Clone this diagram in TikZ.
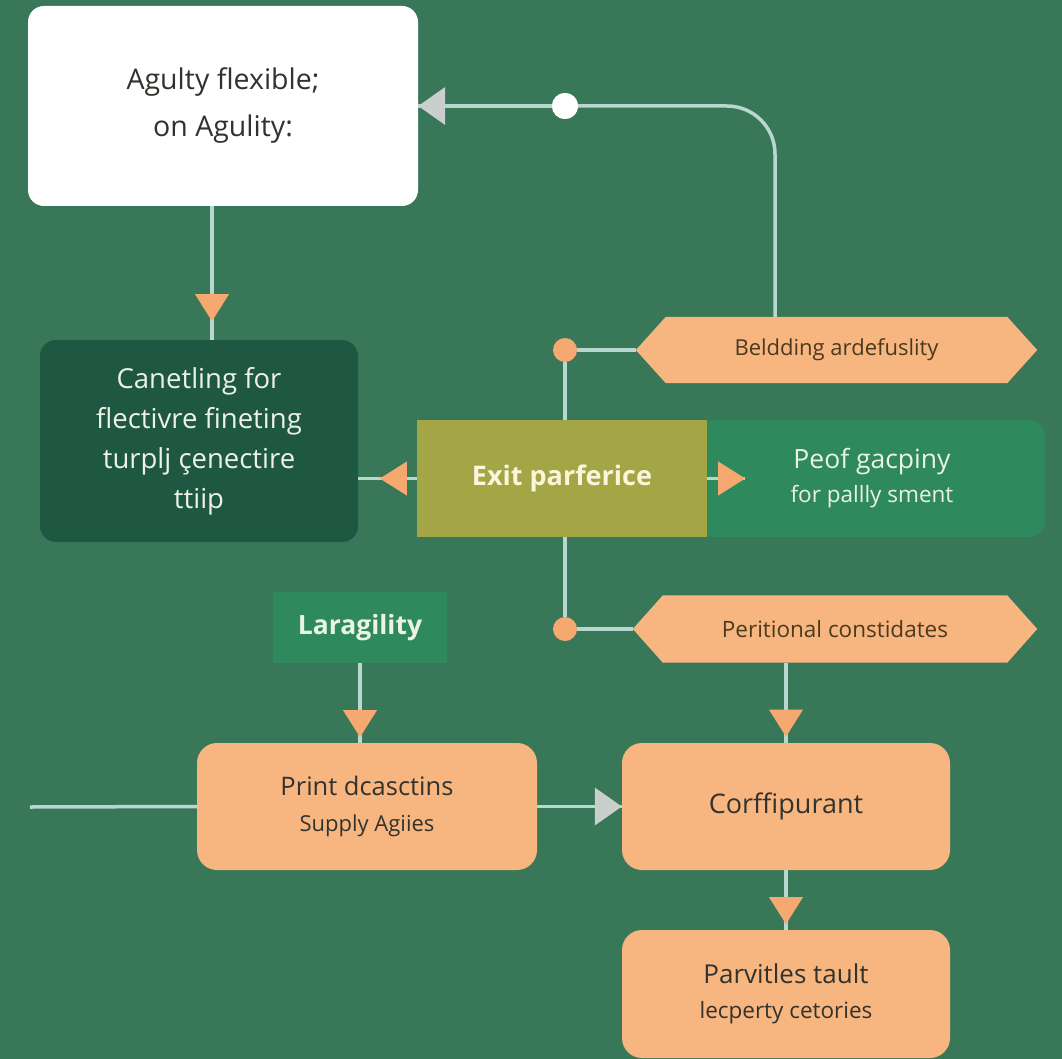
\documentclass[tikz,border=0pt]{standalone}
\usepackage{fontspec}
\setmainfont{Open Sans}
\usetikzlibrary{decorations.markings}
\pgfdeclarelayer{bgl}
\pgfdeclarelayer{back}
\pgfsetlayers{bgl,back,main}
\definecolor{bgc}{RGB}{57,119,89}
\definecolor{darkg}{RGB}{30,88,66}
\definecolor{oliveb}{RGB}{164,165,68}
\definecolor{greenb}{RGB}{46,138,92}
\definecolor{peach}{RGB}{247,182,128}
\definecolor{linec}{RGB}{184,216,207}
\definecolor{arrO}{RGB}{245,168,112}
\definecolor{arrG}{RGB}{201,207,204}
\definecolor{txd}{RGB}{50,50,46}
\definecolor{txb}{RGB}{74,58,31}
\definecolor{txl}{RGB}{236,242,228}
\definecolor{cream}{RGB}{250,246,220}
\tikzset{
  box/.style={rounded corners=16, inner sep=0, align=center},
  sq/.style={inner sep=0, align=center},
  conn/.style={draw=linec, line width=3.5},
  otri/.style={postaction={decorate,decoration={markings,mark=at position #1 with {\fill[arrO] (-27,-17)--(0,0)--(-27,17)--cycle;}}}},
  gtri/.style={postaction={decorate,decoration={markings,mark=at position #1 with {\fill[arrG] (-27,-19)--(0,0)--(-27,19)--cycle;}}}},
  dotO/.style={circle, fill=arrO, minimum size=24, inner sep=0},
  dotW/.style={circle, fill=white, minimum size=26, inner sep=0},
  hexfill/.style={fill=peach}
}
\begin{document}
\begin{tikzpicture}[x=1pt,y=-1pt]
\begin{pgfonlayer}{bgl}
\fill[bgc] (0,0) rectangle (1062,1059);
\end{pgfonlayer}
\useasboundingbox (0,0) rectangle (1062,1059);

% boxes
\node[box, fill=white, text=txd, minimum width=390, minimum height=200,
  font=\fontsize{28.5}{47}\selectfont] (top) at (223,106) {Agulty flexible;\\on Agulity:};
\node[box, fill=darkg, text=txl, minimum width=318, minimum height=202,
  font=\fontsize{27.5}{40}\selectfont] (dark) at (199,441) {Canetling for\\flectivre fineting\\turplj çenectire\\ttiip};
\node[box, fill=greenb, text=txl, minimum width=346, minimum height=117,
  font=\fontsize{26.5}{34}\selectfont] (peof) at (872,478.5) {Peof gacpiny\\{\fontsize{22.5}{34}\selectfont for pallly sment}};
\node[sq, fill=oliveb, text=cream, minimum width=290, minimum height=117,
  font=\bfseries\fontsize{27}{32}\selectfont] (exit) at (562,478.5) {Exit parferice};

\node[sq, text=txb, minimum width=401, minimum height=66,
  font=\fontsize{22}{26}\selectfont] (hex1) at (836.5,350) {Beldding ardefuslity};
\node[sq, text=txb, minimum width=404, minimum height=67,
  font=\fontsize{22.5}{26}\selectfont] (hex2) at (835,629) {Peritional constidates};
\begin{pgfonlayer}{back}
\fill[hexfill] (hex1.west) -- ([xshift=30]hex1.north west) -- ([xshift=-30]hex1.north east) -- (hex1.east) -- ([xshift=-30]hex1.south east) -- ([xshift=30]hex1.south west) -- cycle;
\fill[hexfill] (hex2.west) -- ([xshift=30]hex2.north west) -- ([xshift=-30]hex2.north east) -- (hex2.east) -- ([xshift=-30]hex2.south east) -- ([xshift=30]hex2.south west) -- cycle;
\end{pgfonlayer}

\node[sq, fill=greenb, text=txl, minimum width=174, minimum height=71,
  font=\bfseries\fontsize{26.5}{30}\selectfont] (lar) at (360,627.5) {Laragility};

\node[box, rounded corners=20, fill=peach, text=txd, minimum width=340, minimum height=127,
  font=\fontsize{25.5}{36}\selectfont] (print) at (367,806.5) {Print dcasctins\\{\fontsize{22}{36}\selectfont Supply Agiies}};
\node[box, rounded corners=20, fill=peach, text=txd, minimum width=328, minimum height=127,
  font=\fontsize{27}{30}\selectfont] (corf) at (786,806.5) {Corffipurant};
\node[box, rounded corners=20, fill=peach, text=txd, minimum width=328, minimum height=128,
  font=\fontsize{26}{35}\selectfont] (parv) at (786,994) {Parvitles tault\\{\fontsize{22.5}{35}\selectfont lecperty cetories}};

% dots
\node[dotO] (d1) at (565,350) {};
\node[dotO] (d2) at (565,629) {};

% connectors
\draw[conn, otri=115pt] (top.south -| 212,0) -- (dark.north -| 212,0);
\draw[conn, otri=37pt] (exit.west) -- (dark.east |- exit.west);
\draw[conn, otri=1] (exit.east) -- ++(38,0);
\draw[conn] (d1) -- (hex1.west);
\draw[conn] (d1) -- (d1 |- exit.north);
\draw[conn] (d2 |- exit.south) -- (d2);
\draw[conn] (d2) -- (hex2.west);
\node[dotW] (wd) at (565,106) {};
\draw[conn, rounded corners=48] ([xshift=-61.5]hex1.north) |- (wd);
\draw[conn, gtri=1] (wd) -- (top.east);
\node[dotW] at (wd) {};
\draw[conn, otri=74pt] (hex2.south -| corf.north) -- (corf.north);
\draw[conn, otri=74pt] (lar.south) -- (lar.south |- print.north);
\coordinate (lin) at (30,807);
\draw[conn] (lin) -- (print.west);
\draw[conn, gtri=1] (print.east) -- (corf.west);
\draw[conn, otri=54pt] (corf.south) -- (parv.north);
\end{tikzpicture}
\end{document}
